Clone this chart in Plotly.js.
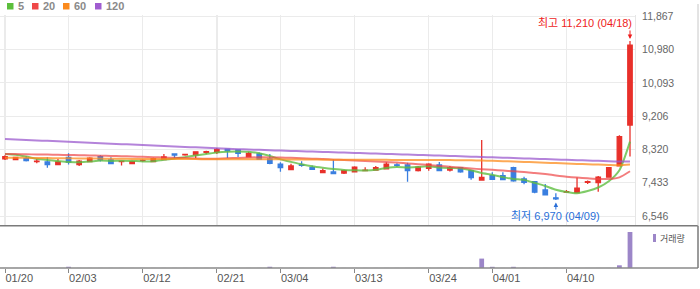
<!DOCTYPE html>
<html>
<head>
<meta charset="utf-8">
<script src="https://cdn.plot.ly/plotly-3.0.1.min.js"></script>
<style>
html,body{margin:0;padding:0;background:#fff;}
#chart{width:700px;height:289px;}
</style>
</head>
<body>
<div id="chart"></div>
<script>
// ---- data ----
const dates = ['01/20','01/21','01/22','01/23','01/24','01/31',
  '02/03','02/04','02/05','02/06','02/07','02/10','02/11','02/12','02/13','02/14','02/17','02/18','02/19','02/20','02/21','02/24','02/25','02/26','02/27','02/28',
  '03/04','03/05','03/06','03/07','03/10','03/11','03/12','03/13','03/14','03/17','03/18','03/19','03/20','03/21','03/24','03/25','03/26','03/27','03/28','03/31',
  '04/01','04/02','04/03','04/04','04/07','04/08','04/09','04/10','04/11','04/14','04/15','04/16','04/17','04/18'];

const opens  = [8070,8050,8075,7995,7985,7915, 8110,7915,7995,8125,8040,7995,7940,8020,7995,8050,8200,8175,8175,8245,8250,8325,8305,8125,8200,8065,
  7930,7780,7910,7835,7700,7720,7690,7725,7755,7770,7805,7910,7905,7755,7815,7905,7770,7835,7755,7505,
  7620,7620,7835,7535,7460,7240,7030,7180,7170,7445,7435,7580,7880,8970];
const highs  = [8165,8125,8145,8065,8110,8065, 8215,8040,8110,8165,8110,8010,8020,8050,8095,8200,8200,8200,8255,8285,8360,8325,8305,8260,8240,8200,
  7975,7935,8005,7890,7815,8060,7780,7870,7845,7880,7975,7950,7965,7880,7950,7985,7880,7835,7755,8570,
  7710,7710,7860,7590,7460,7400,7155,7240,7570,7490,7615,7850,8700,11210];
const lows   = [8040,8035,7995,7950,7835,7915, 7915,7880,7995,8000,7940,7890,7940,7990,7995,8050,8085,8150,8085,8200,8200,8090,8120,8125,8060,7925,
  7725,7780,7860,7790,7700,7675,7665,7725,7755,7770,7805,7860,7460,7730,7755,7755,7730,7700,7515,7505,
  7525,7515,7460,7390,7150,7110,6970,7165,7170,7400,7195,7580,7870,8130];
const closes = [8125,8110,8020,8010,7915,7985, 7985,8010,8090,8040,7940,8005,7995,8025,8075,8120,8170,8185,8255,8260,8320,8285,8215,8215,8060,7950,
  7835,7880,7895,7790,7755,7675,7755,7845,7770,7835,7930,7895,7755,7845,7930,7755,7835,7725,7570,7575,
  7525,7515,7485,7445,7180,7110,7005,7195,7285,7460,7580,7835,8660,11100];
const volumes = [9000,8000,7000,8000,9000,7000, 125000,8000,7000,9000,8000,7000,6000,8000,7000,9000,8000,7000,9000,8000,9000,8000,7000,8000,9000,125000,
  9000,8000,7000,9000,8000,125000,8000,7000,9000,8000,9000,8000,9000,8000,7000,9000,8000,9000,9000,940000,
  120000,8000,120000,9000,9000,8000,9000,8000,9000,8000,9000,9000,270000,3600000];

const ma5   = [8198,8180,8130,8070,8036,8008, 7983,7981,7997,8022,8013,8017,8014,8001,8008,8044,8077,8115,8161,8198,8238,8261,8267,8259,8219,8145,
  8055,7988,7924,7870,7831,7799,7774,7764,7760,7776,7827,7855,7837,7852,7871,7836,7824,7818,7763,7692,
  7646,7582,7534,7509,7430,7347,7245,7187,7155,7211,7305,7471,7764,8527];
const ma20  = [8198,8195,8190,8186,8182,8177, 8172,8166,8160,8154,8148,8140,8130,8122,8114,8105,8097,8090,8078,8070,8074,8085,8094,8104,8110,8108,
  8102,8095,8086,8074,8065,8048,8036,8027,8012,7998,7986,7971,7946,7925,7906,7879,7860,7836,7811,7793,
  7777,7759,7738,7721,7692,7664,7627,7594,7570,7551,7534,7531,7576,7739];
const ma60  = [8100,8098,8095,8092,8089,8086, 8083,8080,8078,8075,8072,8070,8068,8066,8065,8064,8063,8062,8062,8061,8061,8060,8060,8059,8058,8057,
  8055,8054,8052,8050,8048,8046,8045,8044,8043,8042,8042,8041,8040,8040,8039,8038,8036,8033,8030,8024,
  8016,8007,7998,7988,7978,7967,7955,7944,7934,7925,7916,7906,7900,7918];
const ma120 = [8597,8585,8572,8560,8548,8535, 8523,8511,8498,8486,8474,8461,8449,8437,8424,8412,8400,8387,8375,8363,8350,8338,8326,8317,8308,8299,
  8290,8281,8272,8263,8254,8245,8236,8227,8218,8209,8200,8191,8182,8173,8164,8155,8146,8137,8128,8119,
  8110,8100,8091,8081,8072,8062,8053,8043,8034,8024,8015,8005,7998,7995];

const tickDates  = ['01/20','02/03','02/12','02/21','03/04','03/13','03/24','04/01','04/10'];
const priceTicks = [6546,7433,8320,9206,10093,10980,11867];
const maNames  = ['5','20','60','120'];
const volName  = '거래량';

// ---- styling / layout helpers ----
const W = 700, H = 289, ML = 0, MR = 65, MT = 15, MB = 21;
const PW = W - ML - MR, PH = H - MT - MB;
const px2x = p => (p - ML) / PW;
const py2y = p => (H - MB - p) / PH;
const volTop = py2y(225.7);

const idx = dates.map((d, i) => i);
const fmt = v => v.toLocaleString('en-US');
const FONT = 'Liberation Sans, Arial, Noto Sans CJK KR, sans-serif';
const maColors = ['rgba(95,190,65,0.8)','rgba(238,70,70,0.7)','rgba(252,140,30,0.75)','rgba(155,90,205,0.75)'];
const legColors = ['#5cbf3c','#ef4848','#fb8a1c','#a05cd0'];
const UP = '#e8302a', DOWN = '#3a7fe0';

const traces = [];
[ma5, ma20, ma60, ma120].forEach((arr, k) => {
  traces.push({type:'scatter', mode:'lines', x: idx, y: arr, xaxis:'x', yaxis:'y',
    line:{color: maColors[k], width: 2, shape:'spline', smoothing: 0.6},
    hoverinfo:'skip', showlegend:false});
});
traces.push({type:'candlestick', x: idx, open: opens, high: highs, low: lows, close: closes,
  xaxis:'x', yaxis:'y', whiskerwidth: 0,
  increasing:{line:{color:UP, width:1.3}, fillcolor:UP},
  decreasing:{line:{color:DOWN, width:1.3}, fillcolor:DOWN},
  hoverinfo:'skip', showlegend:false});
traces.push({type:'bar', x: idx, y: volumes, xaxis:'x2', yaxis:'y2', width: 0.45,
  marker:{color:'#9c86c8', line:{width:0}}, hoverinfo:'skip', showlegend:false});

// extremes for annotations
let hiI = 0, loI = 0;
highs.forEach((v, i) => { if (v > highs[hiI]) hiI = i; });
lows.forEach((v, i) => { if (v < lows[loI]) loI = i; });

const tickIdx = tickDates.map(d => dates.indexOf(d));

const shapes = [
  {type:'line', xref:'paper', yref:'paper', x0:px2x(0), x1:px2x(698), y0:volTop, y1:volTop, line:{color:'#7a7a7a', width:1.5}},
  {type:'line', xref:'paper', yref:'paper', x0:px2x(0), x1:px2x(698), y0:0, y1:0, line:{color:'#8a8a8a', width:1.5}},
  {type:'line', xref:'paper', yref:'paper', x0:px2x(698), x1:px2x(698), y0:0, y1:volTop, line:{color:'#7a7a7a', width:1.5}},
  {type:'line', xref:'paper', yref:'paper', x0:px2x(698), x1:px2x(698), y0:volTop, y1:py2y(4), line:{color:'#c8c8c8', width:1}},
  {type:'rect', xref:'paper', yref:'paper', x0:px2x(653), x1:px2x(656), y0:py2y(242), y1:py2y(234), fillcolor:'#9c86c8', line:{width:0}}
];
const legX = [7, 32, 63, 95];
legX.forEach((lx, k) => {
  shapes.push({type:'rect', xref:'paper', yref:'paper', x0:px2x(lx), x1:px2x(lx+6.5), y0:py2y(9.5), y1:py2y(3), fillcolor:legColors[k], line:{width:0}});
});

const annotations = [];
legX.forEach((lx, k) => {
  annotations.push({xref:'paper', yref:'paper', x:px2x(lx+8.5), y:py2y(6.3), xanchor:'left', yanchor:'middle',
    text:'<b>'+maNames[k]+'</b>', showarrow:false, font:{family:FONT, size:11, color:'#8a8a8a'}});
});
annotations.push({xref:'paper', yref:'paper', x:px2x(658), y:py2y(238.5), xanchor:'left', yanchor:'middle',
  text: volName, showarrow:false, font:{family:'Noto Sans CJK KR, sans-serif', size:9, color:'#555'}});
// highest
annotations.push({xref:'x', yref:'y', x: hiI, y: highs[hiI], xanchor:'right', yanchor:'middle', xshift: 4, yshift: 18,
  text:'최고 ' + fmt(highs[hiI]) + ' (' + dates[hiI] + ')', showarrow:false,
  font:{family:FONT, size:11, color:'#ee1c1c'}});
annotations.push({xref:'x', yref:'y', x: hiI, y: highs[hiI], text:'', showarrow:true, ax:0, ay:-12, standoff:2,
  arrowhead:2, arrowsize:0.9, arrowwidth:1, arrowcolor:'#ee1c1c'});
// lowest
annotations.push({xref:'x', yref:'y', x: loI, y: lows[loI], xanchor:'center', yanchor:'middle', yshift: -16,
  text:'최저 ' + fmt(lows[loI]) + ' (' + dates[loI] + ')', showarrow:false,
  font:{family:FONT, size:11, color:'#2a6fd8'}});
annotations.push({xref:'x', yref:'y', x: loI, y: lows[loI], text:'', showarrow:true, ax:0, ay:11, standoff:2.5,
  arrowhead:2, arrowsize:0.9, arrowwidth:1, arrowcolor:'#2a6fd8'});

const yTop = 11867 + (16.3 - MT) * 26.63;
const yBot = 6546 - (225.7 - 216) * 26.63;

const layout = {
  width: W, height: H,
  margin:{l:ML, r:MR, t:MT, b:MB, pad:0},
  paper_bgcolor:'#fff', plot_bgcolor:'#fff',
  showlegend:false, boxgap:0.4,
  font:{family:FONT},
  xaxis:{domain:[0,1], anchor:'y', range:[-0.472, idx.length - 1 + 0.472],
    tickvals: tickIdx, showticklabels:false, ticks:'', showgrid:true, gridcolor:'#ebebeb', gridwidth:1.5,
    zeroline:false, showline:false, rangeslider:{visible:false}, fixedrange:true},
  yaxis:{domain:[volTop,1], anchor:'x', range:[yBot, yTop], side:'right',
    tickvals: priceTicks, ticktext: priceTicks.map(fmt), ticks:'outside', ticklen:4, tickcolor:'rgba(0,0,0,0)',
    tickfont:{family:FONT, size:10.5, color:'#666'}, showgrid:true, gridcolor:'#ebebeb', gridwidth:1,
    zeroline:false, showline:true, linecolor:'#e6e6e6', linewidth:1, fixedrange:true},
  xaxis2:{domain:[0,1], anchor:'y2', matches:'x', tickvals: tickIdx, ticktext: tickDates,
    ticks:'outside', ticklen:4, tickcolor:'#888', tickwidth:1, ticklabelposition:'outside right',
    tickfont:{family:FONT, size:11, color:'#555'}, showgrid:false, zeroline:false, showline:false,
    rangeslider:{visible:false}, fixedrange:true},
  yaxis2:{domain:[0, volTop], anchor:'x2', range:[0, 3600000 * 42.3 / 36],
    showticklabels:false, ticks:'', showgrid:false, zeroline:false, showline:false, fixedrange:true},
  shapes: shapes,
  annotations: annotations
};

Plotly.newPlot('chart', traces, layout, {displayModeBar:false, staticPlot:true});
</script>
</body>
</html>
